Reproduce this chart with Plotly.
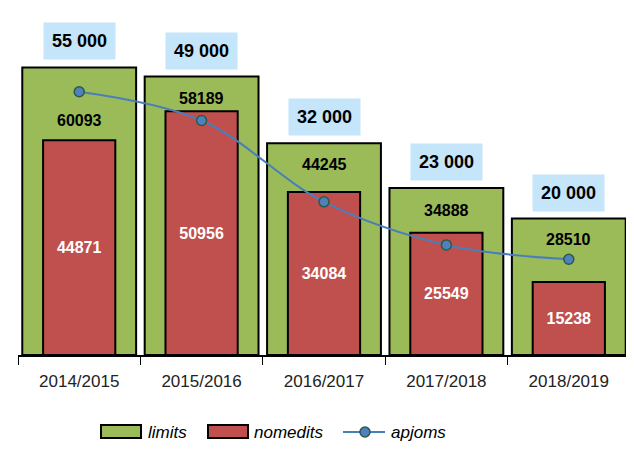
import plotly.graph_objects as go

categories = ["2014/2015", "2015/2016", "2016/2017", "2017/2018", "2018/2019"]
limits = [60093, 58189, 44245, 34888, 28510]
nomedits = [44871, 50956, 34084, 25549, 15238]
apjoms = [55000, 49000, 32000, 23000, 20000]
apjoms_labels = ["55 000", "49 000", "32 000", "23 000", "20 000"]

FONT = "Liberation Sans, Arial, sans-serif"
limit_label_shift = [-53, -22, -21, -22, -21]

# page body has an 8px default margin: size the figure so it fills the 634x470 view
OFF = 8
W, H = 634 - OFF, 470 - OFF
ML, MR, MT, MB = 18 - OFF, 4, 20 - OFF, 115
PW, PH = W - ML - MR, H - MT - MB


def px(x):
    return (x - OFF - ML) / PW


def py(y):
    return (H - MB - (y - OFF)) / PH


GREEN, RED, BLUE = "#9bbb59", "#c0504d", "#4a7ebb"

fig = go.Figure()
fig.add_trace(go.Bar(
    x=categories, y=limits, name="limits", width=0.93,
    marker=dict(color=GREEN, line=dict(color="black", width=2)),
))
fig.add_trace(go.Bar(
    x=categories, y=nomedits, name="nomedits", width=0.59,
    marker=dict(color=RED, line=dict(color="black", width=2)),
    text=[str(v) for v in nomedits], textposition="inside",
    insidetextanchor="middle", textangle=0,
    textfont=dict(color="white", size=16, family=FONT, weight="bold"),
))
fig.add_trace(go.Scatter(
    x=categories, y=apjoms, name="apjoms", mode="lines+markers",
    line=dict(color=BLUE, width=2, shape="spline", smoothing=1),
    marker=dict(color="#4f81bd", size=10, line=dict(color="#2c5a4a", width=1.5)),
))

for c, v, s in zip(categories, limits, limit_label_shift):
    fig.add_annotation(x=c, y=v, yshift=s, text=str(v), showarrow=False,
                       font=dict(size=16, color="black", family=FONT, weight="bold"),
                       yanchor="middle")

for c, v, t in zip(categories, limits, apjoms_labels):
    fig.add_annotation(x=c, y=v, yshift=26, text=t, showarrow=False,
                       font=dict(size=18, color="black", family=FONT, weight="bold"),
                       bgcolor="#c4e5fa", borderpad=8, yanchor="middle")

# custom legend (wide swatches like the reference)
legend_font = dict(size=17, style="italic", color="black", family=FONT)
fig.add_shape(type="rect", xref="paper", yref="paper", x0=px(101), x1=px(141),
              y0=py(438), y1=py(425), fillcolor=GREEN, line=dict(color="black", width=2))
fig.add_annotation(xref="paper", yref="paper", x=px(146), y=py(432), text="limits",
                   showarrow=False, xanchor="left", yanchor="middle", font=legend_font)
fig.add_shape(type="rect", xref="paper", yref="paper", x0=px(208), x1=px(248),
              y0=py(438), y1=py(425), fillcolor=RED, line=dict(color="black", width=2))
fig.add_annotation(xref="paper", yref="paper", x=px(252), y=py(432), text="nomedits",
                   showarrow=False, xanchor="left", yanchor="middle", font=legend_font)
fig.add_shape(type="line", xref="paper", yref="paper", x0=px(343), x1=px(385),
              y0=py(432), y1=py(432), line=dict(color=BLUE, width=2))
fig.add_shape(type="circle", xref="paper", yref="paper", x0=px(360), x1=px(370),
              y0=py(437), y1=py(427), fillcolor="#4f81bd",
              line=dict(color="#2c5a4a", width=1.5))
fig.add_annotation(xref="paper", yref="paper", x=px(389), y=py(432), text="apjoms",
                   showarrow=False, xanchor="left", yanchor="middle", font=legend_font)

fig.update_layout(
    width=W, height=H,
    margin=dict(l=ML, r=MR, t=MT, b=MB, autoexpand=False),
    paper_bgcolor="white", plot_bgcolor="white",
    barmode="overlay", showlegend=False,
    font=dict(family=FONT, color="#222"),
)
fig.update_xaxes(showline=True, linecolor="black", linewidth=1.5,
                 ticks="outside", tickson="boundaries", ticklen=8, tickcolor="black",
                 ticklabelstandoff=10,
                 tickfont=dict(size=17, color="#222", family=FONT), showgrid=False,
                 automargin=False)
fig.update_yaxes(range=[0, 70000], visible=False, showgrid=False, automargin=False)

fig.write_html("out.html")
